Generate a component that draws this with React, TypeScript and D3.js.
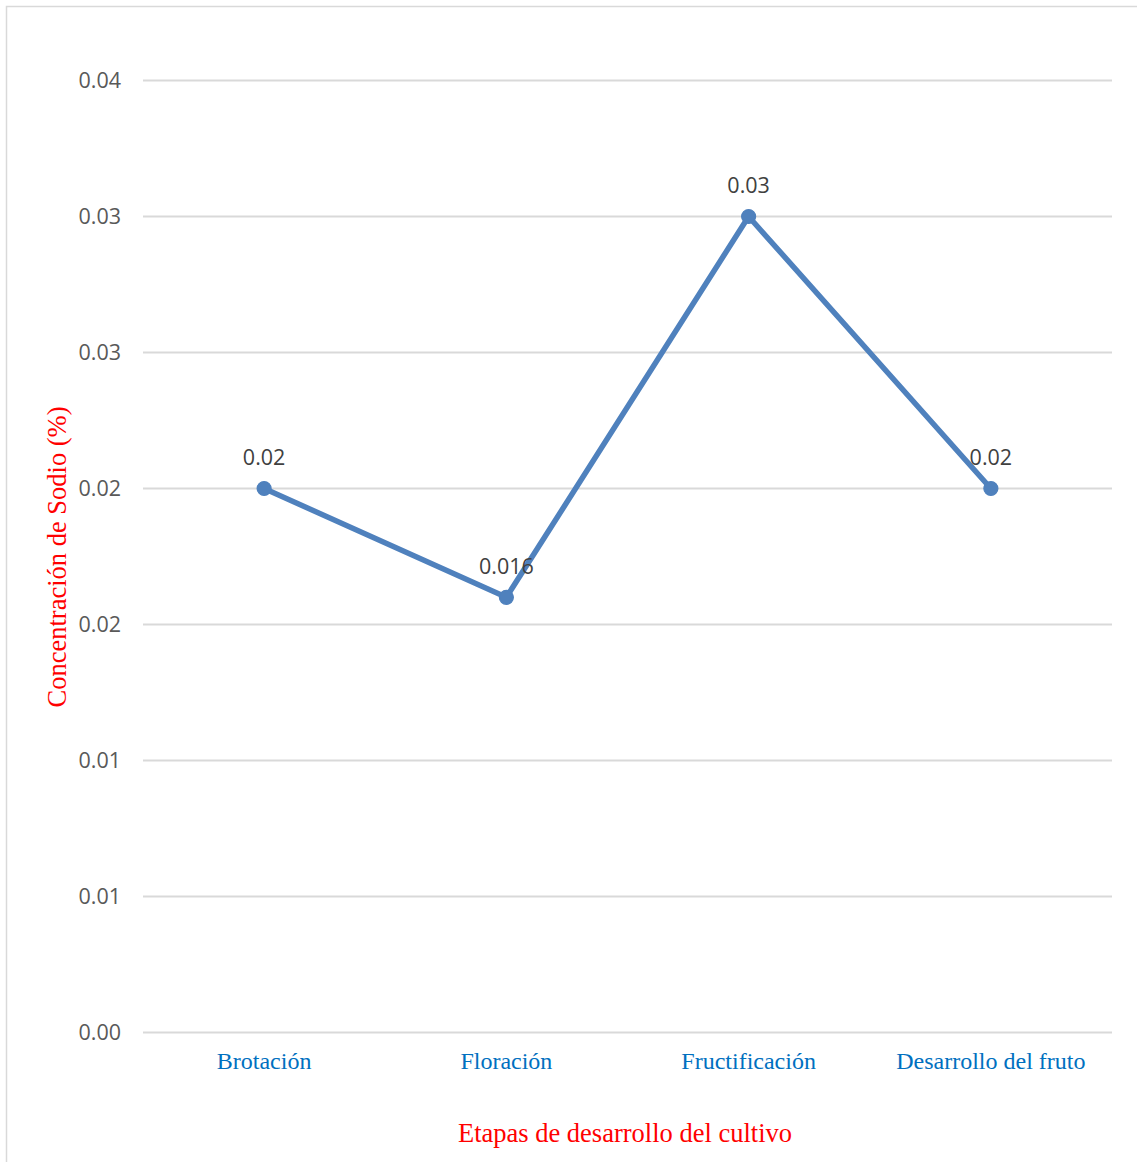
import React from "react";
import * as d3 from "d3";

// Sodium concentration by crop development stage
const stages: string[] = ["Brotación", "Floración", "Fructificación", "Desarrollo del fruto"];
const sodio: number[] = [0.02, 0.016, 0.03, 0.02];
const sodioLabels: string[] = ["0.02", "0.016", "0.03", "0.02"];
const yTickValues: number[] = [0, 0.005, 0.01, 0.015, 0.02, 0.025, 0.03, 0.035];
const yTickLabels: string[] = ["0.00", "0.01", "0.01", "0.02", "0.02", "0.03", "0.03", "0.04"];

const W = 1137;
const H = 1162;
const plot = { left: 143, right: 1112, top: 80.5, bottom: 1032.5 };

export default function App() {
  const x = d3
    .scaleBand<string>()
    .domain(stages)
    .range([plot.left, plot.right])
    .padding(0);
  const y = d3.scaleLinear().domain([0, 0.035]).range([plot.bottom, plot.top]);

  const cx = (s: string) => (x(s) ?? 0) + x.bandwidth() / 2;
  const line = d3
    .line<number>()
    .x((_, i) => cx(stages[i]))
    .y((d) => y(d));

  const sans = "'Open Sans', 'Liberation Sans', sans-serif";
  const serif = "'Liberation Serif', 'Times New Roman', serif";

  return (
    <svg
      width={W}
      height={H}
      style={{ position: "absolute", left: 0, top: 0, background: "#fff" }}
    >
      <rect x={6.5} y={6.5} width={W + 10} height={H + 10} fill="#fff" stroke="#D9D9D9" strokeWidth={1.5} />

      {/* gridlines and y tick labels */}
      {yTickValues.map((v, i) => (
        <g key={i}>
          <line
            x1={plot.left}
            x2={plot.right}
            y1={y(v)}
            y2={y(v)}
            stroke="#D9D9D9"
            strokeWidth={1.8}
          />
          <text
            x={121}
            y={y(v)}
            dy="0.36em"
            textAnchor="end"
            fontFamily={sans}
            fontSize={21.5}
            fill="#595959"
          >
            {yTickLabels[i]}
          </text>
        </g>
      ))}

      {/* category labels */}
      {stages.map((s) => (
        <text
          key={s}
          x={cx(s)}
          y={1068.5}
          textAnchor="middle"
          fontFamily={serif}
          fontSize={24}
          fill="#0070C0"
        >
          {s}
        </text>
      ))}

      {/* series line */}
      <path d={line(sodio) ?? ""} fill="none" stroke="#4F81BD" strokeWidth={5.5} strokeLinejoin="round" strokeLinecap="round" />
      {sodio.map((v, i) => (
        <circle key={i} cx={cx(stages[i])} cy={y(v)} r={7} fill="#4F81BD" stroke="#4F81BD" strokeWidth={1.2} />
      ))}

      {/* data labels */}
      {sodio.map((v, i) => (
        <text
          key={i}
          x={cx(stages[i])}
          y={y(v) - 31.5}
          dy="0.36em"
          textAnchor="middle"
          fontFamily={sans}
          fontSize={21.5}
          fill="#404040"
        >
          {sodioLabels[i]}
        </text>
      ))}

      {/* axis titles */}
      <text
        transform={`translate(57,557) rotate(-90)`}
        dy="0.35em"
        textAnchor="middle"
        fontFamily={serif}
        fontSize={26.5}
        fill="#FF0000"
      >
        Concentración de Sodio (%)
      </text>
      <text
        x={625}
        y={1142}
        textAnchor="middle"
        fontFamily={serif}
        fontSize={26.5}
        fill="#FF0000"
      >
        Etapas de desarrollo del cultivo
      </text>
    </svg>
  );
}
